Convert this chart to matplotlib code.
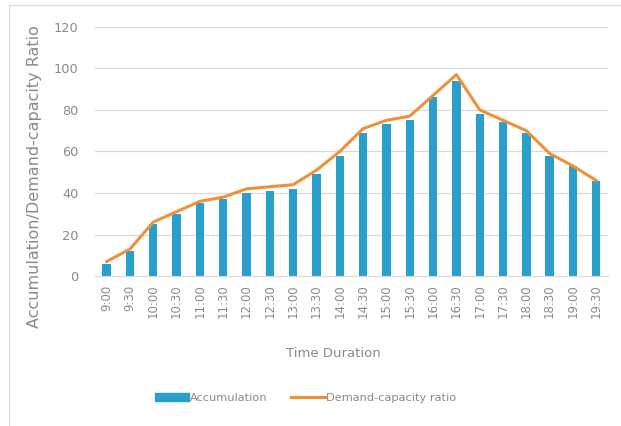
import matplotlib.pyplot as plt
from matplotlib.lines import Line2D
import numpy as np

times = ["9:00", "9:30", "10:00", "10:30", "11:00", "11:30", "12:00", "12:30",
         "13:00", "13:30", "14:00", "14:30", "15:00", "15:30", "16:00", "16:30",
         "17:00", "17:30", "18:00", "18:30", "19:00", "19:30"]
accumulation = [6, 12, 25, 30, 35, 37, 40, 41, 42, 49, 58, 69, 73, 75, 86, 94,
                78, 74, 69, 58, 53, 46]
dc_ratio = [7, 13, 26, 31, 36, 38, 42, 43, 44, 51, 60, 71, 75, 77, 87, 97,
            80, 75, 70, 59, 53, 46]

bar_color = "#2A9FCC"
line_color = "#F0913A"
text_color = "#8A8A8A"

fig = plt.figure(figsize=(6.21, 4.26), dpi=100)
ax = fig.add_axes([0.153, 0.352, 0.826, 0.585])

x = np.arange(len(times))
ax.bar(x, accumulation, width=0.36, color=bar_color, label="Accumulation", zorder=2)
ax.plot(x, dc_ratio, color=line_color, linewidth=2.2, label="Demand-capacity ratio", zorder=3)

ax.set_xlim(-0.5, len(times) - 0.5)
ax.set_ylim(0, 120)
ax.set_yticks(range(0, 121, 20))
ax.set_xticks(x)
ax.set_xticklabels(times, rotation=90, fontsize=8.5, color=text_color)
ax.tick_params(axis="y", labelsize=9.3, labelcolor=text_color, length=0, pad=12)
ax.tick_params(axis="x", length=0, pad=6)
ax.grid(axis="y", color="#D9D9D9", linewidth=0.9, zorder=0)
for s in ["top", "right", "left"]:
    ax.spines[s].set_visible(False)
ax.spines["bottom"].set_color("#D9D9D9")

ax.set_ylabel("Accumulation/Demand-capacity Ratio", fontsize=11.5, color=text_color)
ax.yaxis.set_label_coords(-0.103, 0.40)
ax.set_xlabel("Time Duration", fontsize=9.5, color=text_color)
ax.xaxis.set_label_coords(0.464, -0.285)

handles = [plt.Rectangle((0, 0), 1, 1, color=bar_color),
           Line2D([0], [0], color=line_color, linewidth=2.2)]
fig.legend(handles, ["Accumulation", "Demand-capacity ratio"], loc="center",
           bbox_to_anchor=(0.492, 0.065), ncol=2, frameon=False, fontsize=8.2,
           labelcolor=text_color, handlelength=3.0, handletextpad=0.1, columnspacing=2.0)

# chart frame
fig.add_artist(Line2D([9 / 621, 9 / 621], [0, 1 - 5 / 426], color="#D9D9D9", linewidth=0.9))
fig.add_artist(Line2D([9 / 621, 1], [1 - 5 / 426, 1 - 5 / 426], color="#D9D9D9", linewidth=0.9))

fig.savefig("out.png", dpi=100)
